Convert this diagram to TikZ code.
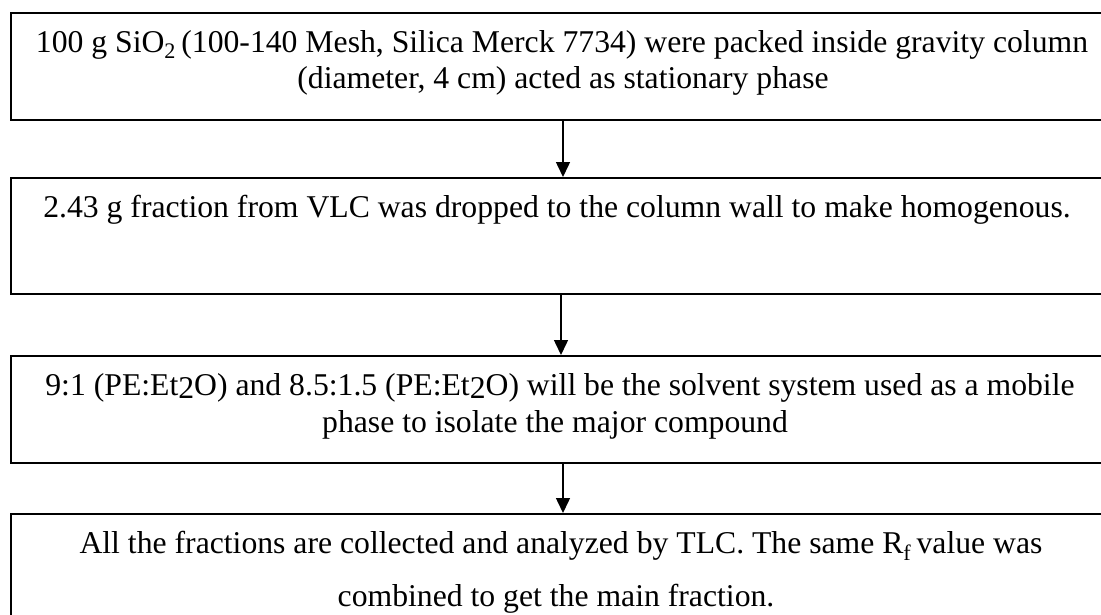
\documentclass[tikz,border=0pt]{standalone}
\usepackage{fontspec}
\setmainfont{Liberation Serif}
\usetikzlibrary{arrows.meta}
\begin{document}
\begin{tikzpicture}[x=1pt,y=-1pt,
  stepbox/.style={draw=black,line width=1.8pt,rectangle,inner sep=0pt,anchor=north west},
  txt/.style={inner sep=0pt,anchor=base,font=\fontsize{31.7}{36}\selectfont},
  flow/.style={line width=1.5pt,-{Triangle[width=14pt,length=15pt]}}]
\useasboundingbox (0,0) rectangle (1101,614);
\clip (0,0) rectangle (1101,614);

% process boxes (they run past the right margin)
\node[stepbox,minimum width=1110pt,minimum height=107pt] (b1) at (10,12) {};
\node[stepbox,minimum width=1110pt,minimum height=116pt] (b2) at (10,177) {};
\node[stepbox,minimum width=1110pt,minimum height=107pt] (b3) at (10,355) {};
\node[stepbox,minimum width=1110pt,minimum height=140pt] (b4) at (10,513) {};

% box texts
\node[txt] (t1a) at (562,52) {100 g SiO\textsubscript{2}\,(100-140 Mesh, Silica Merck 7734) were packed inside gravity column};
\node[txt] (t1b) at (563,88) {(diameter, 4 cm) acted as stationary phase};
\node[txt] (t2) at (557,217) {2.43 g fraction from VLC was dropped to the column wall to make homogenous.};
\node[txt] (t3a) at (560,395) {9:1 (PE:Et\raisebox{-3pt}{2}O) and 8.5:1.5 (PE:Et\raisebox{-3pt}{2}O) will be the solvent system used as a mobile};
\node[txt] (t3b) at (555,432) {phase to isolate the major compound};
\node[txt] (t4a) at (561,553) {All the fractions are collected and analyzed by TLC. The same R\textsubscript{f}\,value was};
\node[txt] (t4b) at (556,606) {combined to get the main fraction.};

% connectors
\coordinate (a1) at (563,0);
\coordinate (a2) at (561,0);
\coordinate (a3) at (563,0);
\draw[flow] (b1.south -| a1) -- (b2.north -| a1);
\draw[flow] (b2.south -| a2) -- (b3.north -| a2);
\draw[flow] (b3.south -| a3) -- (b4.north -| a3);
\end{tikzpicture}
\end{document}
